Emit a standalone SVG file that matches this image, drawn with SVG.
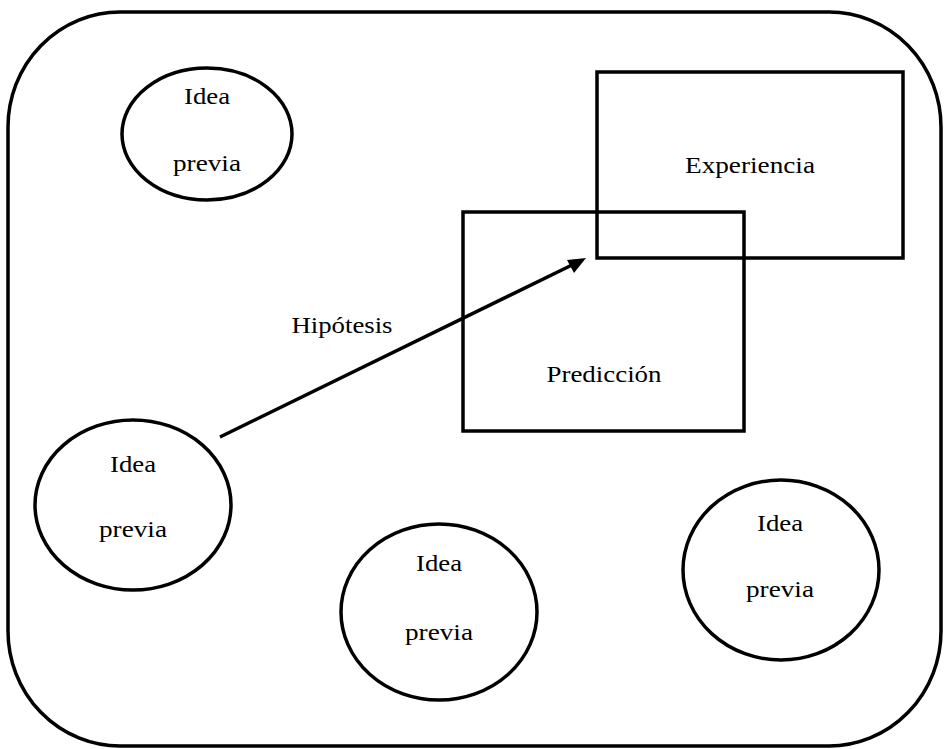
<svg xmlns="http://www.w3.org/2000/svg" width="944" height="749" viewBox="0 0 944 749">
<style>
.s{fill:none;stroke:#000;stroke-width:3.5}
.t{font-family:"Liberation Serif","Times New Roman","DejaVu Serif",serif;font-size:24px;fill:#000;text-anchor:middle}
</style>
<rect width="944" height="749" fill="#fff"/>
<g id="frame"><rect class="s" x="8" y="12" width="933" height="734" rx="112" ry="115"/></g>
<g id="experiencia"><rect class="s" x="597" y="72" width="306" height="186"/><text class="t" x="750" y="173" textLength="130" lengthAdjust="spacingAndGlyphs">Experiencia</text></g>
<g id="prediccion"><rect class="s" x="463" y="212" width="281" height="219"/><text class="t" x="604" y="382" textLength="115" lengthAdjust="spacingAndGlyphs">Predicción</text></g>
<g id="idea1"><ellipse class="s" cx="207" cy="134" rx="85" ry="66"/><text class="t" x="207" y="104" textLength="46" lengthAdjust="spacingAndGlyphs">Idea</text><text class="t" x="207" y="171" textLength="68" lengthAdjust="spacingAndGlyphs">previa</text></g>
<g id="idea2"><ellipse class="s" cx="133" cy="505" rx="98" ry="85"/><text class="t" x="133" y="472" textLength="46" lengthAdjust="spacingAndGlyphs">Idea</text><text class="t" x="133" y="537" textLength="68" lengthAdjust="spacingAndGlyphs">previa</text></g>
<g id="idea3"><ellipse class="s" cx="439" cy="612" rx="98" ry="88"/><text class="t" x="439" y="571" textLength="46" lengthAdjust="spacingAndGlyphs">Idea</text><text class="t" x="439" y="640" textLength="68" lengthAdjust="spacingAndGlyphs">previa</text></g>
<g id="idea4"><ellipse class="s" cx="781" cy="570" rx="98" ry="90"/><text class="t" x="780" y="531" textLength="46" lengthAdjust="spacingAndGlyphs">Idea</text><text class="t" x="780" y="597" textLength="68" lengthAdjust="spacingAndGlyphs">previa</text></g>
<g id="connectors">
<line class="s" x1="220" y1="437" x2="572" y2="265"/>
<path d="M586,258 L567,260 L574,273 Z" fill="#000"/>
<text class="t" x="342" y="333" textLength="101" lengthAdjust="spacingAndGlyphs">Hipótesis</text>
</g>
</svg>
